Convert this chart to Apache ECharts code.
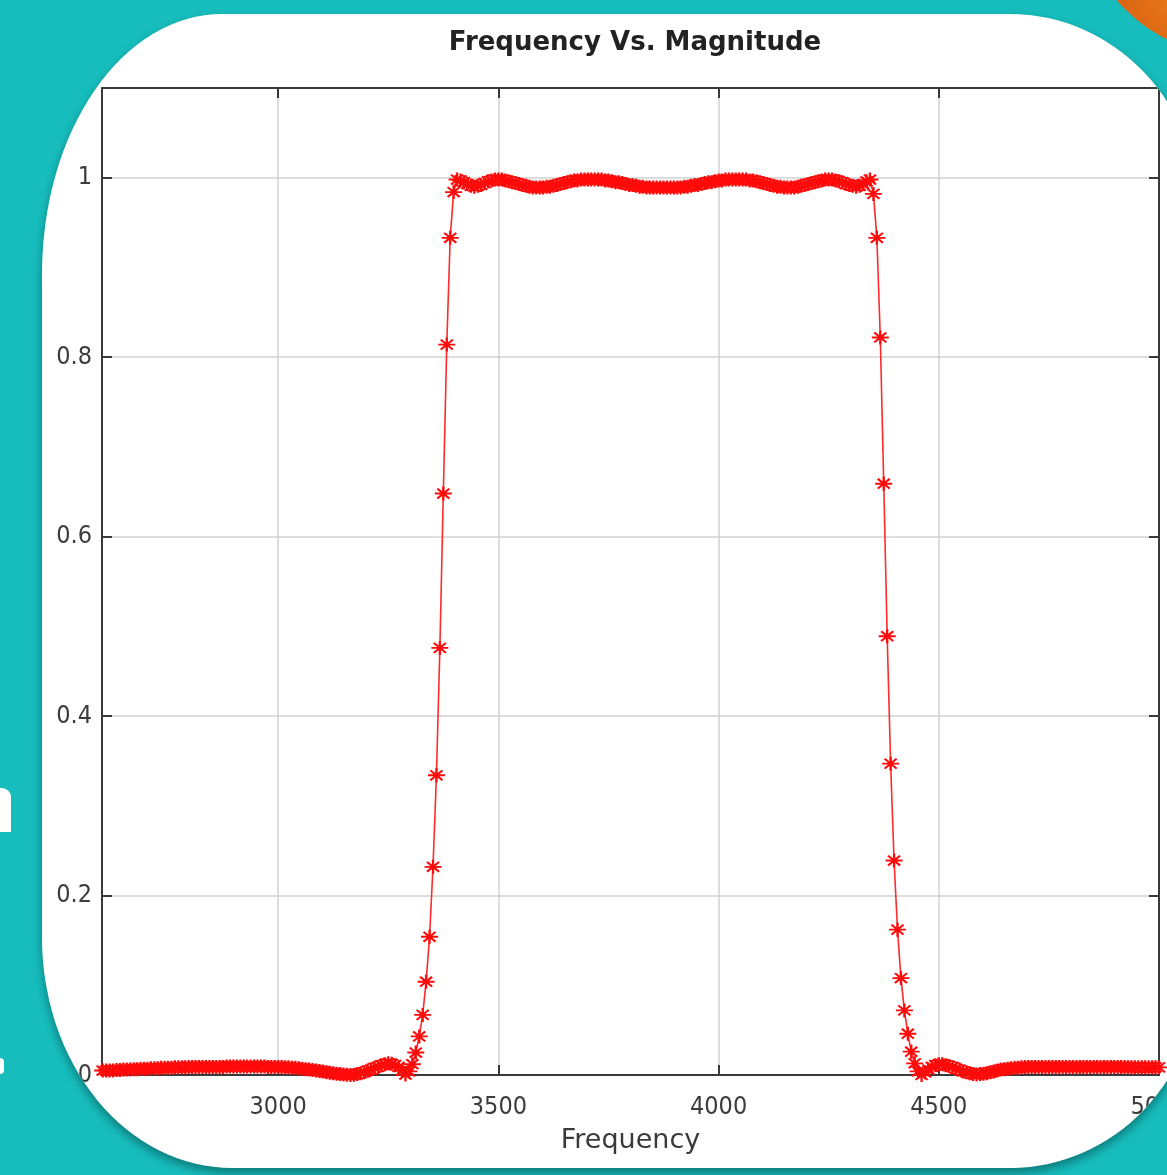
<!DOCTYPE html>
<html>
<head>
<meta charset="utf-8">
<script src="https://cdn.jsdelivr.net/npm/echarts@6/dist/echarts.min.js"></script>
<style>
html,body{margin:0;padding:0;width:1167px;height:1175px;overflow:hidden;background:#17bdbd;}
#blob{position:absolute;left:1080px;top:-255px;width:310px;height:310px;border-radius:50%;
  background:radial-gradient(circle at 40% 75%, #f08a20 0%, #d4560e 40%, #b83e0a 100%);}
.frag{position:absolute;background:#fff;}
#card{position:absolute;left:42px;top:14px;width:1158px;height:1154px;background:#fff;overflow:hidden;
  border-top-left-radius:180px 260px;border-top-right-radius:190px 200px;
  border-bottom-right-radius:190px 200px;border-bottom-left-radius:190px 230px;
  box-shadow:0 5px 10px rgba(0,40,40,0.45);}
#chart{position:absolute;left:-42px;top:-14px;width:1167px;height:1175px;filter:blur(0.45px);}
</style>
</head>
<body>
<div id="blob"></div>
<div class="frag" style="left:0;top:788px;width:11px;height:44px;border-top-right-radius:9px;"></div>
<div class="frag" style="left:0;top:1058px;width:4px;height:16px;border-radius:0 4px 4px 0;"></div>
<div id="card"><div id="chart"></div></div>
<script>
// FFT grid: fs = 8000 Hz, N = 1024 -> 7.8125 Hz per bin; visible bins 333..640
const sampleRate = 8000;
const fftSize = 1024;
const firstBin = 333;

const stopLow = [
  0.005,0.005,0.005,0.005,0.0055,0.0055,0.006,0.006,0.006,0.0065,0.0065,0.007,0.007,
  0.007,0.0075,0.0075,0.0075,0.008,0.008,0.008,0.008,0.0085,0.0085,0.0085,0.0085,
  0.009,0.009,0.009,0.009,0.009,0.009,0.009,0.009,0.009,0.009,0.009,
  0.0095,0.0095,0.0095,0.0095,0.0095,0.0095,0.0095,0.0095,0.0095,0.0095,0.0095,0.0095,
  0.009,0.009,0.009,0.009,0.009,
  0.0085,0.0085,0.008,0.008,0.0075,
  0.007,0.0065,0.006,0.0055,0.005,
  0.0045,0.004,0.003,0.0025,0.002,
  0.0015,0.001,0.0005,0.0002,0,
  0.0003,0.001,0.002,0.003,0.005,
  0.006,0.008,0.009,0.011,0.012,
  0.013,0.0125,0.011,0.009,0.005
];
const riseEdge = [0.0005,0.004,0.012,0.025,0.043,0.067,0.104,0.154,0.232,0.334,0.476,0.648,0.814,0.933,0.984];
const passBand = [
  0.998,0.997,0.995,0.993,0.991,0.990,0.991,0.992,0.994,0.996,
  0.997,0.998,0.998,0.998,0.997,0.996,0.995,0.994,0.993,0.992,
  0.991,0.990,0.989,0.989,0.989,0.989,0.990,0.990,0.991,0.992,
  0.993,0.994,0.995,0.996,0.997,0.997,0.998,0.998,0.998,0.998,
  0.998,0.998,0.998,0.997,0.997,0.996,0.995,0.995,0.994,0.993,
  0.992,0.992,0.991,0.990,0.990,0.989,0.989,0.989,0.989,0.989,
  0.989,0.989,0.989,0.989,0.989,0.989,0.990,0.990,0.991,0.992,
  0.992,0.993,0.994,0.995,0.995,0.996,0.997,0.997,0.998,0.998,
  0.998,0.998,0.998,0.998,0.998,0.997,0.997,0.996,0.995,0.994,
  0.993,0.992,0.991,0.990,0.990,0.989,0.989,0.989,0.989,0.990,
  0.991,0.992,0.993,0.994,0.995,0.996,0.997,0.998,0.998,0.998,
  0.997,0.996,0.995,0.993,0.992,0.991,0.990,0.991,0.993,0.996,
  0.998,0.982
];
const fallEdge = [0.933,0.822,0.659,0.489,0.347,0.239,0.162,0.108,0.072,0.046,0.026,0.013,0.004,0.0];
const stopHigh = [
  0.003,0.006,0.009,0.011,0.012,0.012,0.011,0.010,0.009,0.007,0.006,0.004,0.003,0.002,0.001,0.0005,
  0.001,0.0015,0.002,0.003,0.004,0.005,0.006,0.0065,0.007,0.0075,0.008,0.008,0.0085,
  0.009,0.009,0.009,0.009,0.009,0.009,0.009,0.009,0.009,0.009,
  0.009,0.009,0.009,0.009,0.009,0.009,0.009,0.009,0.009,0.009,
  0.009,0.009,0.009,0.009,0.009,0.009,0.009,0.009,0.009,0.009,
  0.0085,0.0085,0.0085,0.0085,0.0085,0.0085,0.0085,0.0085,0.0085,0.0085
];
const xTicks = [3000,3500,4000,4500,5000];
const yTicks = [0,0.2,0.4,0.6,0.8,1];

const magnitude = stopLow.concat(riseEdge, passBand, fallEdge, stopHigh);
const points = magnitude.map((m,i)=>[(firstBin+i)*sampleRate/fftSize, m]);

const tickFont = "'DejaVu Sans Condensed','DejaVu Sans',sans-serif";
const axisColor = '#3a3a3a';
const gridColor = '#d2d2d2';
const star = 'path://M0,-10L0,10M-12,0L12,0M-8.5,-7.07L8.5,7.07M-8.5,7.07L8.5,-7.07';

const chart = echarts.init(document.getElementById('chart'), null, {renderer:'canvas'});
chart.setOption({
  animation:false,
  backgroundColor:'transparent',
  title:{text:'Frequency Vs. Magnitude',left:630,top:25,textAlign:'center',
    textStyle:{fontFamily:"'DejaVu Sans',sans-serif",fontWeight:'bold',fontSize:26,color:'#222'}},
  grid:{left:102,right:8,top:88,bottom:100,containLabel:false,outerBoundsMode:'none'},
  xAxis:[{
    type:'value',min:2600,max:5000,position:'bottom',
    name:'Frequency',nameLocation:'middle',nameGap:52,
    nameTextStyle:{fontFamily:"'DejaVu Sans',sans-serif",fontSize:27,color:'#3a3a3a'},
    axisLine:{show:true,onZero:false,lineStyle:{color:axisColor,width:2}},
    axisTick:{show:true,inside:true,length:10,customValues:xTicks,lineStyle:{color:axisColor,width:2}},
    axisLabel:{customValues:xTicks,margin:20,fontFamily:tickFont,fontSize:25,color:'#3c3c3c',
      formatter:v=>String(v)},
    splitLine:{show:true,lineStyle:{color:gridColor,width:1.5}}
  },{
    type:'value',min:2600,max:5000,position:'top',
    axisLine:{show:true,onZero:false,lineStyle:{color:axisColor,width:2}},
    axisTick:{show:true,inside:true,length:10,customValues:xTicks,lineStyle:{color:axisColor,width:2}},
    axisLabel:{show:false},splitLine:{show:false}
  }],
  yAxis:[{
    type:'value',min:0,max:1.1,interval:0.2,position:'left',
    axisLine:{show:true,onZero:false,lineStyle:{color:axisColor,width:2}},
    axisTick:{show:true,inside:true,length:10,lineStyle:{color:axisColor,width:2}},
    axisLabel:{showMaxLabel:false,margin:10,fontFamily:tickFont,fontSize:25,color:'#3c3c3c',
      formatter:v=>String(Math.round(v*10)/10)},
    splitLine:{show:true,lineStyle:{color:gridColor,width:1.5}}
  },{
    type:'value',min:0,max:1.1,interval:0.2,position:'right',
    axisLine:{show:true,onZero:false,lineStyle:{color:axisColor,width:2}},
    axisTick:{show:true,inside:true,length:10,lineStyle:{color:axisColor,width:2}},
    axisLabel:{show:false},splitLine:{show:false}
  }],
  series:[{
    type:'line',xAxisIndex:0,yAxisIndex:0,data:points,
    symbol:star,symbolSize:[17,14],showSymbol:true,
    lineStyle:{color:'#ff2a2a',width:1.6},
    itemStyle:{color:'rgba(255,0,0,0)',borderColor:'#ff0a0a',borderWidth:2.1},
    emphasis:{disabled:true}
  }]
});
</script>
</body>
</html>
